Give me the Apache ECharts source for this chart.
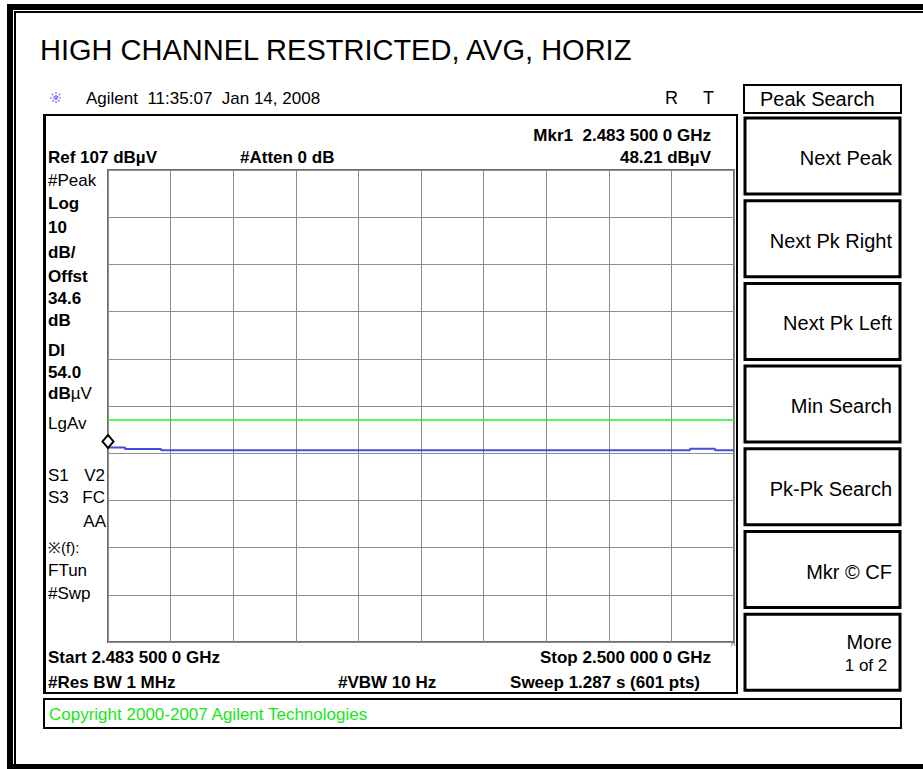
<!DOCTYPE html>
<html>
<head>
<meta charset="utf-8">
<title>HIGH CHANNEL RESTRICTED, AVG, HORIZ</title>
<script src="https://cdn.jsdelivr.net/npm/echarts@6/dist/echarts.min.js"></script>
<style>
  html, body { margin: 0; padding: 0; background: #fff; }
  #chart { width: 923px; height: 769px; }
</style>
</head>
<body>
<div id="chart"></div>
<script>
// trace, GHz / dBuV, level held until next point
const traceFreq = [2.4835, 2.48395, 2.4849, 2.49884, 2.4995, 2.5];
const traceLevel = [48.21, 47.9, 47.65, 47.95, 47.65, 47.65];
const displayLine = 54.0;
const markerFreq = 2.4835;
const markerLevel = 48.21;
const refLevel = 107;
const dbPerDiv = 10;
const startGHz = 2.4835;
const stopGHz = 2.5;

const titleText = 'HIGH CHANNEL RESTRICTED, AVG, HORIZ';
const leftLabels = ['#Peak', 'Log', '10', 'dB/', 'Offst', '34.6', 'dB', 'DI', '54.0', 'dBµV', 'LgAv',
  'S1', 'S3', '※(f):', 'FTun', '#Swp'];
const softkeys = ['Next Peak', 'Next Pk Right', 'Next Pk Left', 'Min Search', 'Pk-Pk Search', 'Mkr © CF', 'More'];

const FONT = "'Liberation Sans', Arial, sans-serif";

function txt(x, y, s, size, opt) {
  opt = opt || {};
  return {
    type: 'text', x: x, y: y, z: 10,
    style: {
      text: s,
      font: (opt.bold ? 'bold ' : '') + size + 'px ' + FONT,
      fill: opt.color || '#000',
      textAlign: opt.align || 'left',
      textVerticalAlign: 'middle'
    }
  };
}
function box(x, y, w, h, lw) {
  return { type: 'rect', z: 5, shape: { x: x, y: y, width: w, height: h },
    style: { fill: 'none', stroke: '#000', lineWidth: lw } };
}
function bar(x, y, w, h) {
  return { type: 'rect', z: 5, shape: { x: x, y: y, width: w, height: h }, style: { fill: '#000' } };
}

let g = [];
// outer page frame
g.push(bar(7, 4, 6, 765), bar(7, 4, 916, 6), bar(7, 764, 916, 5));
g.push(bar(14, 11, 2, 753), bar(14, 11, 909, 2));

g.push(txt(40, 50, titleText, 29));

// analyzer header
g.push({ type: 'group', x: 56, y: 98, z: 10, children: [0, 45, 90, 135].map(function (a) {
  let r = a * Math.PI / 180;
  return { type: 'line', shape: { x1: -6 * Math.cos(r), y1: -6 * Math.sin(r), x2: 6 * Math.cos(r), y2: 6 * Math.sin(r) },
    style: { stroke: '#6a6af0', lineWidth: 1.2, lineDash: [2, 1] } };
}) });
g.push(txt(86, 98, 'Agilent  11:35:07  Jan 14, 2008', 17));
g.push(txt(665, 98, 'R', 18), txt(703, 98, 'T', 18));

// screen frame
g.push(box(44, 115, 693, 578, 2), bar(43, 115, 3, 579));
g.push(txt(48, 157, 'Ref 107 dBµV', 17, { bold: true }));
g.push(txt(240, 157, '#Atten 0 dB', 17, { bold: true }));
g.push(txt(711, 135, 'Mkr1  2.483 500 0 GHz', 17, { bold: true, align: 'right' }));
g.push(txt(711, 157, '48.21 dBµV', 17, { bold: true, align: 'right' }));
g.push(txt(48, 657, 'Start 2.483 500 0 GHz', 17, { bold: true }));
g.push(txt(711, 657, 'Stop 2.500 000 0 GHz', 17, { bold: true, align: 'right' }));
g.push(txt(48, 682, '#Res BW 1 MHz', 17, { bold: true }));
g.push(txt(338, 682, '#VBW 10 Hz', 17, { bold: true }));
g.push(txt(700, 682, 'Sweep 1.287 s (601 pts)', 17, { bold: true, align: 'right' }));
g.push(txt(733, 646, '^', 10, { color: '#666', align: 'center' }));

// left annotation column
const leftY = [180, 203, 227, 252, 276, 298, 320, 350, 372, 393, 423, 475, 497, 547, 570, 593];
const boldSet = ['Log', '10', 'dB/', 'Offst', '34.6', 'dB', 'DI', '54.0'];
leftLabels.forEach(function (s, i) {
  if (s === 'dBµV') {
    g.push({ type: 'text', x: 48, y: leftY[i], z: 10, style: {
      text: '{b|dB}{n|µV}', textVerticalAlign: 'middle',
      rich: { b: { font: 'bold 17px ' + FONT, fill: '#000' }, n: { font: '17px ' + FONT, fill: '#000' } } } });
  } else {
    g.push(txt(48, leftY[i], s, s.indexOf('※') === 0 ? 15 : 17, { bold: boldSet.indexOf(s) >= 0 }));
  }
});
g.push(txt(105, 475, 'V2', 17, { align: 'right' }));
g.push(txt(105, 497, 'FC', 17, { align: 'right' }));
g.push(txt(106, 521, 'AA', 17, { align: 'right' }));

// copyright bar
g.push(box(44, 699, 857, 29, 2));
g.push(txt(49, 714, 'Copyright 2000-2007 Agilent Technologies', 17, { color: '#19e619' }));

// softkey panel
g.push(box(744, 85, 157, 28, 2));
g.push(txt(760, 99, 'Peak Search', 20));
softkeys.forEach(function (s, i) {
  let y = 118 + i * 82.7;
  g.push(box(745, y, 155, 76, 3));
  if (s === 'More') {
    g.push(txt(892, y + 28, s, 20, { align: 'right' }));
    g.push(txt(866, y + 51, '1 of 2', 17, { align: 'center' }));
  } else {
    g.push(txt(892, y + 40, s, 20, { align: 'right' }));
  }
});

const chart = echarts.init(document.getElementById('chart'), null, { renderer: 'svg' });
chart.setOption({
  animation: false,
  backgroundColor: '#fff',
  grid: { left: 108, top: 170, width: 626, height: 472, show: true, borderColor: '#6e6e6e', borderWidth: 2 },
  xAxis: [
    { type: 'value', min: startGHz, max: stopGHz, show: false },
    { type: 'value', min: 0, max: 10, interval: 1, position: 'bottom',
      axisLine: { show: false }, axisTick: { show: false }, axisLabel: { show: false },
      splitLine: { show: true, lineStyle: { color: '#8c8c8c', width: 1 } } }
  ],
  yAxis: [
    { type: 'value', min: refLevel - 10 * dbPerDiv, max: refLevel, show: false },
    { type: 'value', min: 0, max: 10, interval: 1,
      axisLine: { show: false }, axisTick: { show: false }, axisLabel: { show: false },
      splitLine: { show: true, lineStyle: { color: '#8c8c8c', width: 1 } } }
  ],
  series: [{
    type: 'line',
    xAxisIndex: 0, yAxisIndex: 0,
    step: 'end',
    showSymbol: false,
    data: traceFreq.map(function (f, i) { return [f, traceLevel[i]]; }),
    lineStyle: { color: '#4a4ae0', width: 2 },
    z: 4,
    markLine: {
      silent: true, symbol: 'none', label: { show: false },
      lineStyle: { color: '#22ee22', width: 1.5, type: 'solid' },
      data: [{ yAxis: displayLine }]
    },
    markPoint: {
      silent: true,
      symbol: 'diamond', symbolSize: [11, 13], symbolOffset: [0, -6],
      itemStyle: { color: '#fff', borderColor: '#000', borderWidth: 2 },
      label: { show: false },
      data: [{ coord: [markerFreq, markerLevel] }]
    }
  }],
  graphic: g
});
</script>
</body>
</html>
